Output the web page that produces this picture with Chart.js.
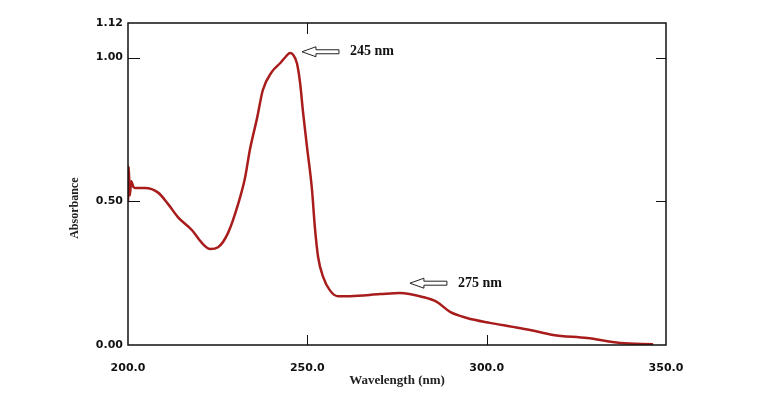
<!DOCTYPE html>
<html>
<head>
<meta charset="utf-8">
<script src="https://cdn.jsdelivr.net/npm/chart.js@4"></script>
<style>
  html, body { margin: 0; padding: 0; background: #fff; }
  #wrap { width: 757px; height: 405px; }
</style>
</head>
<body>
<div id="wrap"><canvas id="myChart"></canvas></div>
<script>
// wavelength (nm) and absorbance
const wavelength = [200.0, 200.2, 200.5, 200.9, 201.5, 202.0, 204.7, 208.4, 211.2, 213.9, 217.8, 220.6, 222.9, 225.1, 227.9,
  230.7, 232.6, 234.0, 236.0, 237.6, 240.1, 242.4, 243.8, 245.2, 246.0, 247.1, 248.0, 248.8, 249.9, 251.3, 252.1, 253.0,
  254.4, 256.3, 258.5, 261.9, 270.3, 275.8, 282.2, 286.1, 289.8, 294.5, 300.9, 307.3, 312.1, 318.5, 328.0, 337.2, 346.4];
const absorbance = [0.50, 0.62, 0.52, 0.57, 0.55, 0.546, 0.546, 0.53, 0.49, 0.445, 0.40, 0.355, 0.334, 0.34, 0.39,
  0.49, 0.58, 0.68, 0.79, 0.887, 0.95, 0.98, 1.0, 1.016, 1.01, 0.98, 0.91, 0.81, 0.69, 0.54, 0.41, 0.306,
  0.237, 0.19, 0.17, 0.17, 0.177, 0.181, 0.167, 0.15, 0.115, 0.094, 0.077, 0.063, 0.052, 0.035, 0.024, 0.007, 0.003];

const xTicks = [200, 250, 300, 350];
const yTicks = [0, 0.5, 1.0, 1.12];
const xInnerTicks = [250, 300];     // small tick marks drawn inside the box
const yInnerTicks = [0.5, 1.0];

// arrow annotations (tip position in data units)
const annotLabels = ["245 nm", "275 nm"];
const annotX = [248.5, 278.6];
const annotY = [1.02, 0.215];

const boxPlugin = {
    id: "boxPlugin",
    afterDraw(chart) {
        const c = chart.ctx;
        const a = chart.chartArea;
        const xs = chart.scales.x;
        const ys = chart.scales.y;
        c.save();
        c.strokeStyle = "#111";
        c.lineWidth = 1.5;
        c.strokeRect(a.left, a.top, a.right - a.left, a.bottom - a.top);

        c.lineWidth = 1;
        c.beginPath();
        xInnerTicks.forEach(v => {
            const px = Math.round(xs.getPixelForValue(v)) + 0.5;
            c.moveTo(px, a.bottom); c.lineTo(px, a.bottom - 10);
        });
        const topTick = Math.round(xs.getPixelForValue(250)) + 0.5;   //only one tick on the top edge
        c.moveTo(topTick, a.top); c.lineTo(topTick, a.top + 11);
        yInnerTicks.forEach(v => {
            const py = Math.round(ys.getPixelForValue(v)) + 0.5;
            c.moveTo(a.left, py); c.lineTo(a.left + 12, py);
            c.moveTo(a.right, py); c.lineTo(a.right - 10, py);
        });
        c.stroke();

        // y axis title
        c.fillStyle = "#222";
        c.font = "bold 12px 'Liberation Serif', serif";
        c.textAlign = "center";
        c.textBaseline = "middle";
        c.translate(75, a.top + (a.bottom - a.top) * 0.575);
        c.rotate(-Math.PI / 2);
        c.fillText("Absorbance", 0, 0);
        c.restore();

        // hollow arrows pointing at the peaks
        c.save();
        annotLabels.forEach((label, i) => {
            const tx = xs.getPixelForValue(annotX[i]);
            const ty = ys.getPixelForValue(annotY[i]);
            c.beginPath();
            c.moveTo(tx, ty);
            c.lineTo(tx + 14, ty - 5);
            c.lineTo(tx + 14, ty - 2);
            c.lineTo(tx + 37, ty - 2);
            c.lineTo(tx + 37, ty + 2);
            c.lineTo(tx + 14, ty + 2);
            c.lineTo(tx + 14, ty + 5);
            c.closePath();
            c.fillStyle = "#fff";
            c.fill();
            c.strokeStyle = "#222";
            c.lineWidth = 1;
            c.stroke();
            c.fillStyle = "#111";
            c.font = "bold 14px 'Liberation Serif', serif";
            c.textAlign = "left";
            c.textBaseline = "middle";
            c.fillText(label, tx + 48, ty);
        });
        c.restore();
    }
};

const ctx = document.getElementById("myChart").getContext("2d");
const myChart = new Chart(ctx, {
    type: "line",
    data: {
        datasets: [{
            data: wavelength.map((w, i) => ({x: w, y: absorbance[i]})),
            borderColor: "#a81c1c",
            borderWidth: 2.5,
            pointRadius: 0,
            fill: false,
            cubicInterpolationMode: "monotone"
        }]
    },
    options: {
        responsive: true,
        maintainAspectRatio: false,
        animation: false,
        layout: { padding: { top: 23, right: 91, left: 0, bottom: 0 } },
        scales: {
            x: {
                type: "linear",
                min: 200,
                max: 350,
                afterBuildTicks: (axis) => { axis.ticks = xTicks.map(v => ({value: v})); },
                afterFit: (axis) => { axis.height = 60; },
                grid: { display: false, drawTicks: false },
                border: { display: false },
                ticks: {
                    padding: 17,
                    color: "#111",
                    maxRotation: 0,
                    font: { family: "'DejaVu Sans', sans-serif", size: 11, weight: "bold" },
                    callback: (v) => Number(v).toFixed(1)
                },
                title: {
                    display: true,
                    text: "Wavelength (nm)",
                    color: "#222",
                    padding: { top: 0, bottom: 17 },
                    font: { family: "'Liberation Serif', serif", size: 13, weight: "bold" }
                }
            },
            y: {
                type: "linear",
                min: 0,
                max: 1.12,
                afterBuildTicks: (axis) => { axis.ticks = yTicks.map(v => ({value: v})); },
                afterFit: (axis) => { axis.width = 128; },
                grid: { display: false, drawTicks: false },
                border: { display: false },
                ticks: {
                    padding: 5,
                    color: "#111",
                    font: { family: "'DejaVu Sans', sans-serif", size: 11, weight: "bold" },
                    callback: (v) => Number(v).toFixed(2)
                }
            }
        },
        plugins: {
            legend: { display: false },
            tooltip: { enabled: false }
        }
    },
    plugins: [boxPlugin]
});
</script>
</body>
</html>
